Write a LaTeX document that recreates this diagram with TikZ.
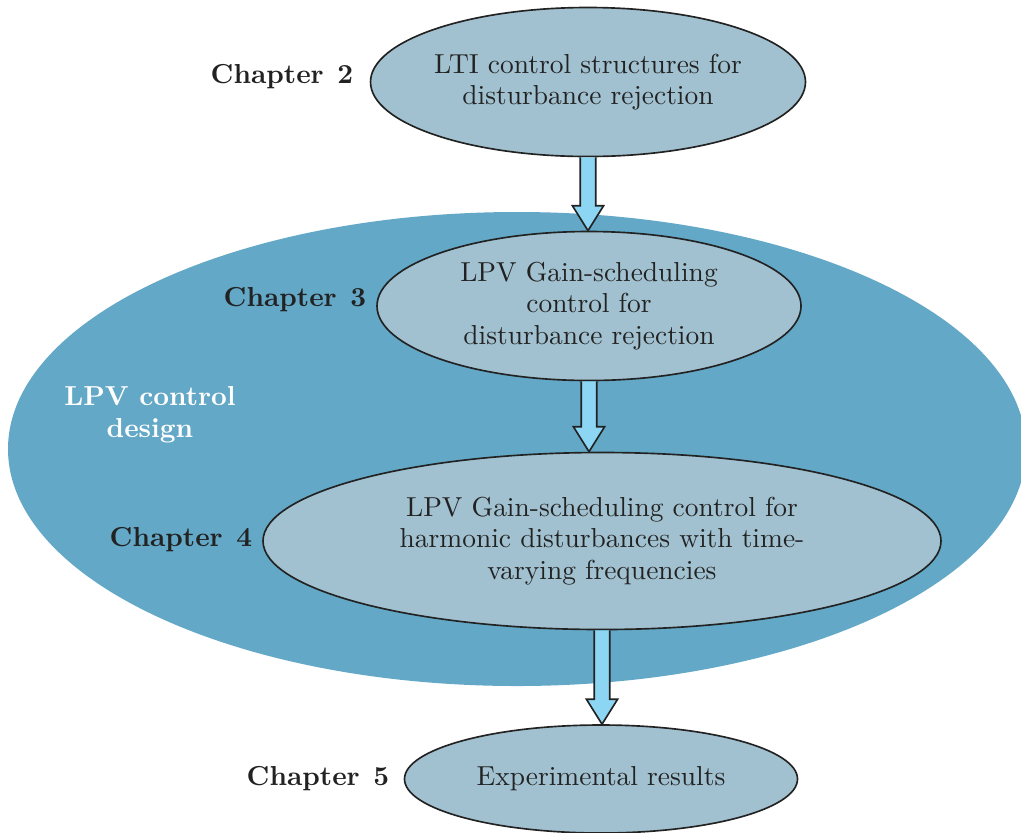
\documentclass[tikz,border=0pt]{standalone}
\usepackage{tikz}
\usetikzlibrary{shapes.geometric, calc, positioning}

\definecolor{chapfill}{RGB}{161,193,208}
\definecolor{lpvfill}{RGB}{99,168,198}
\definecolor{arrfill}{RGB}{140,213,243}
\definecolor{txtcol}{RGB}{34,34,34}

\tikzset{
    chapnode/.style={ellipse, draw=txtcol, line width=0.6pt, fill=chapfill, inner sep=0pt, align=center, text=txtcol},
    chaplabel/.style={font=\bfseries, text=txtcol},
    fatarr/.style={draw=txtcol, line width=0.6pt, fill=arrfill, line join=miter},
}

% wide block arrow from the bottom of one node to the top of the next
\newcommand{\fatarrow}[2]{%
    \filldraw[fatarr] let \p1=(#1.south), \p2=(#2.north) in
        (\x1-0.1cm,\y1) -- (\x1-0.1cm,\y2+0.32cm) -- (\x1-0.2cm,\y2+0.32cm)
        -- (\x1,\y2) -- (\x1+0.2cm,\y2+0.32cm) -- (\x1+0.1cm,\y2+0.32cm)
        -- (\x1+0.1cm,\y1);
}

\begin{document}
\begin{tikzpicture}[x=0.0128cm, y=-0.0128cm]
    \useasboundingbox (0,0) rectangle (1021,832);
    \fontsize{10}{11.5}\selectfont

    % LPV part
    \node[ellipse, fill=lpvfill, minimum width=1018*0.0128cm, minimum height=474*0.0128cm] (lpv) at (517,449) {};
    \node[font=\bfseries, text=white, align=center] (lpvlabel) at (150,415) {LPV control\\design};

    \node[chapnode, minimum width=425*0.0128cm, minimum height=149*0.0128cm] (lti) at (588,82)
        {LTI control structures for\\disturbance rejection};
    \node[chapnode, minimum width=424*0.0128cm, minimum height=149*0.0128cm] (gs) at (589,306)
        {LPV Gain-scheduling\\control for\\disturbance rejection};
    \node[chapnode, minimum width=678*0.0128cm, minimum height=177*0.0128cm] (harm) at (602,541)
        {LPV Gain-scheduling control for\\harmonic disturbances with time-\\varying frequencies};
    \node[chapnode, minimum width=393*0.0128cm, minimum height=108*0.0128cm] (exp) at (601,779)
        {Experimental results};

    \node[chaplabel] (ch2) at (282,77) {Chapter\hspace{5pt}2};
    \node[chaplabel] (ch3) at (295,300) {Chapter\hspace{5pt}3};
    \node[chaplabel] (ch4) at (181,540) {Chapter\hspace{5pt}4};
    \node[chaplabel] (ch5) at (318,779) {Chapter\hspace{5pt}5};

    \fatarrow{lti}{gs}
    \fatarrow{gs}{harm}
    \fatarrow{harm}{exp}
\end{tikzpicture}
\end{document}
